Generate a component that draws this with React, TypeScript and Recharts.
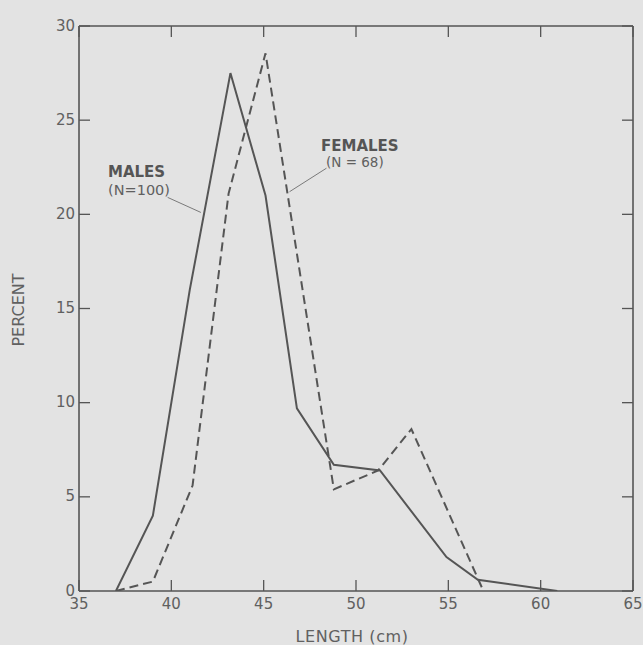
import React from "react";
import { LineChart, Line, XAxis, YAxis, ReferenceLine } from "recharts";

// ---- data ----
const xTicks = [35, 40, 45, 50, 55, 60, 65];
const yTicks = [0, 5, 10, 15, 20, 25, 30];

const maleLength = [37, 39, 41, 43.2, 45.1, 46.8, 48.8, 51.3, 54.9, 56.6, 60.9];
const malePercent = [0, 4.0, 16.0, 27.5, 21.0, 9.7, 6.7, 6.4, 1.8, 0.6, 0];

const femaleLength = [37, 39, 41.15, 43.1, 45.1, 48.8, 51.2, 53.0, 56.9];
const femalePercent = [0, 0.5, 5.6, 21.1, 28.55, 5.4, 6.4, 8.6, 0];

const maleLeader = [
  { x: 39.8, y: 20.9 },
  { x: 41.6, y: 20.1 },
];
const femaleLeader = [
  { x: 48.4, y: 22.45 },
  { x: 46.4, y: 21.2 },
];

const males = maleLength.map((len, i) => ({ len, pct: malePercent[i] }));
const females = femaleLength.map((len, i) => ({ len, pct: femalePercent[i] }));

const BG = "#e3e3e3";
const INK = "#555555";
const TXT = "#606060";
const FONT = "DejaVu Sans, sans-serif";
const TICK = 11;

const BottomTick = (props: any) => {
  const { x, y, payload } = props;
  return (
    <g>
      <line x1={x} x2={x} y1={y} y2={y - TICK} stroke={INK} strokeWidth={1.3} />
      <text x={x} y={y + 18} textAnchor="middle" fill={TXT} fontSize={15} fontFamily={FONT}>
        {payload.value}
      </text>
    </g>
  );
};
const TopTick = (props: any) => {
  const { x, y } = props;
  return <line x1={x} x2={x} y1={y} y2={y + TICK} stroke={INK} strokeWidth={1.3} />;
};
const LeftTick = (props: any) => {
  const { x, y, payload } = props;
  return (
    <g>
      <line x1={x} x2={x + TICK} y1={y} y2={y} stroke={INK} strokeWidth={1.3} />
      <text x={x - 4} y={y + 4.5} textAnchor="end" fill={TXT} fontSize={15} fontFamily={FONT}>
        {payload.value}
      </text>
    </g>
  );
};
const RightTick = (props: any) => {
  const { x, y } = props;
  return <line x1={x} x2={x - TICK} y1={y} y2={y} stroke={INK} strokeWidth={1.3} />;
};

export default function App() {
  return (
    <div
      style={{
        position: "absolute",
        left: 0,
        top: 0,
        width: 643,
        height: 645,
        background: BG,
        overflow: "hidden",
      }}
    >
      <LineChart width={643} height={645} margin={{ top: 0, right: 0, bottom: 0, left: 0 }}>
        <XAxis
          xAxisId="b"
          dataKey="len"
          type="number"
          domain={[35, 65]}
          ticks={xTicks}
          orientation="bottom"
          height={54}
          tickSize={0}
          tickMargin={0}
          tickLine={false}
          tick={<BottomTick />}
          axisLine={{ stroke: INK, strokeWidth: 1.6 }}
          interval={0}
          allowDataOverflow
        />
        <XAxis
          xAxisId="t"
          dataKey="len"
          type="number"
          domain={[35, 65]}
          ticks={xTicks}
          orientation="top"
          height={26}
          tickSize={0}
          tickMargin={0}
          tickLine={false}
          tick={<TopTick />}
          axisLine={{ stroke: INK, strokeWidth: 1.6 }}
          interval={0}
          allowDataOverflow
        />
        <YAxis
          yAxisId="l"
          type="number"
          domain={[0, 30]}
          ticks={yTicks}
          orientation="left"
          width={79}
          tickSize={0}
          tickMargin={0}
          tickLine={false}
          tick={<LeftTick />}
          axisLine={{ stroke: INK, strokeWidth: 1.6 }}
          interval={0}
          allowDataOverflow
        />
        <YAxis
          yAxisId="r"
          type="number"
          domain={[0, 30]}
          ticks={yTicks}
          orientation="right"
          width={10}
          tickSize={0}
          tickMargin={0}
          tickLine={false}
          tick={<RightTick />}
          axisLine={{ stroke: INK, strokeWidth: 1.6 }}
          interval={0}
          allowDataOverflow
        />
        <ReferenceLine
          xAxisId="b"
          yAxisId="l"
          segment={maleLeader}
          stroke="#7a7a7a"
          strokeWidth={1}
          ifOverflow="visible"
        />
        <ReferenceLine
          xAxisId="b"
          yAxisId="l"
          segment={femaleLeader}
          stroke="#7a7a7a"
          strokeWidth={1}
          ifOverflow="visible"
        />
        <Line
          xAxisId="b"
          yAxisId="l"
          data={males}
          dataKey="pct"
          type="linear"
          stroke={INK}
          strokeWidth={2}
          dot={false}
          isAnimationActive={false}
        />
        <Line
          xAxisId="b"
          yAxisId="l"
          data={females}
          dataKey="pct"
          type="linear"
          stroke={INK}
          strokeWidth={2}
          strokeDasharray="9 5"
          dot={false}
          isAnimationActive={false}
        />
        <Line
          xAxisId="t"
          yAxisId="r"
          data={males}
          dataKey="pct"
          type="linear"
          stroke="none"
          dot={false}
          legendType="none"
          isAnimationActive={false}
        />
      </LineChart>
      <svg
        width={643}
        height={645}
        style={{ position: "absolute", left: 0, top: 0, pointerEvents: "none" }}
      >
        <text x={108} y={177} fill={INK} fontSize={15} fontWeight="bold" fontFamily={FONT}>
          MALES
        </text>
        <text x={108} y={195} fill={TXT} fontSize={14.5} fontFamily={FONT}>
          (N=100)
        </text>
        <text x={321} y={151} fill={INK} fontSize={15} fontWeight="bold" fontFamily={FONT}>
          FEMALES
        </text>
        <text x={326} y={167} fill={TXT} fontSize={13.5} fontFamily={FONT}>
          (N = 68)
        </text>
        <text
          x={352}
          y={642}
          textAnchor="middle"
          fill={TXT}
          fontSize={16}
          letterSpacing={0.6}
          fontFamily={FONT}
        >
          LENGTH (cm)
        </text>
        <text
          x={0}
          y={0}
          transform="translate(24,310) rotate(-90)"
          textAnchor="middle"
          fill={TXT}
          fontSize={16}
          fontFamily={FONT}
        >
          PERCENT
        </text>
      </svg>
    </div>
  );
}
